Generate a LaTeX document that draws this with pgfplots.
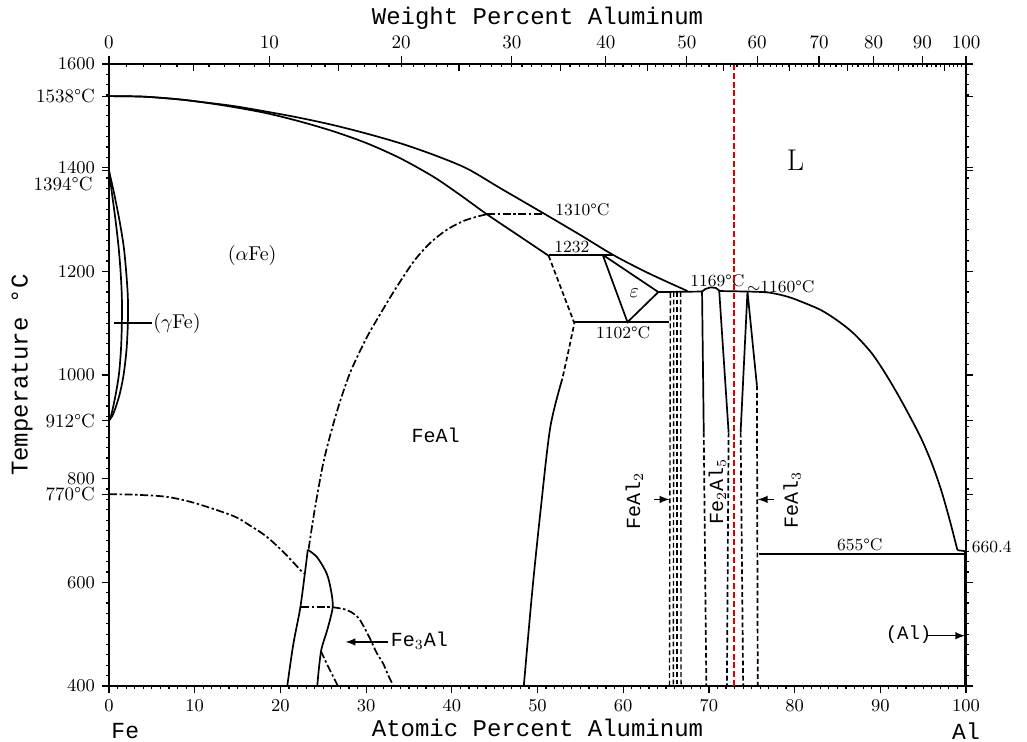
\documentclass[border=0pt]{standalone}
\usepackage{fontspec}
\setmonofont{Liberation Mono}
\usepackage{pgfplots}
\pgfplotsset{compat=1.18}
\def\wtticks{0}
\foreach \w in {1,...,99}{\pgfmathsetmacro\a{\w*2.06983/(\w*2.06983+100-\w)*100}\xdef\wtticks{\wtticks,\a}}
\tikzset{
 sl/.style={black, line width=0.85pt},
 dd/.style={black, line width=0.85pt, dash pattern=on 4pt off 1.3pt on 1.2pt off 1.3pt},
 ds/.style={black, line width=0.85pt, dash pattern=on 2.4pt off 1.4pt},
 lab/.style={font=\fontsize{8.5}{9}\selectfont, inner sep=1pt},
 tlab/.style={font=\ttfamily\fontsize{10}{11}\selectfont, inner sep=1pt},
}
\begin{document}
\begin{tikzpicture}
\begin{axis}[
 scale only axis, width=428.5pt, height=311pt,
 xmin=0, xmax=100, ymin=400, ymax=1600,
 xtick={0,10,...,100}, minor x tick num=9,
 ytick={400,600,...,1600}, minor y tick num=9,
 xtick pos=bottom, ytick pos=both, yticklabel pos=left,
 tick align=outside, major tick length=3.5pt, minor tick length=1.6pt,
 every tick/.style={black, line width=0.6pt},
 axis line style={line width=0.9pt},
 /pgf/number format/1000 sep={},
 tick label style={font=\fontsize{9.5}{10}\selectfont},
 xlabel={Atomic Percent Aluminum}, ylabel={Temperature °C},
 label style={font=\ttfamily\fontsize{12}{14}\selectfont},
 xlabel style={at={(axis description cs:0.5,-0.068)}, anchor=center},
 ylabel style={at={(axis description cs:-0.1015,0.5)}, anchor=center, rotate=0},
 extra y ticks={1538,1394,912,770}, extra y tick labels={1538°C,,912°C,770°C},
 clip=false,
]
\coordinate (BL) at (rel axis cs:0,0);
\coordinate (TR) at (rel axis cs:1,1);
% liquidus (Fe side)
\addplot[sl, smooth] coordinates {(0,1538) (4,1537) (8,1532) (10.6,1527) (14.5,1519) (18.4,1508) (22.3,1496) (26.2,1482) (30,1466) (34.0,1447) (38,1424) (41.8,1398) (45.7,1360) (50.9,1310) (54.9,1271) (58.9,1231) (63,1196) (67.5,1162)};
% solidus
\addplot[sl, smooth] coordinates {(0,1538) (4,1537) (8,1532) (11,1526) (14.5,1517) (18.4,1505) (22.3,1489) (26.2,1470) (30.1,1447) (34,1418) (37.9,1382) (41,1347) (44.1,1310) (47.7,1270) (51.3,1230)};
% FeAl boundary
\addplot[ds] coordinates {(51.3,1230) (52.8,1165) (54.3,1100) (53.6,1045) (52.9,993)};
\addplot[sl, smooth] coordinates {(52.9,993) (51.5,900) (50.4,745) (49.4,585) (48.4,400)};
% isotherms
\addplot[sl] coordinates {(51.3,1232) (58.9,1232)};
\addplot[sl] coordinates {(54.3,1102) (65.4,1102)};
\addplot[sl] coordinates {(64.1,1160) (69.2,1161)};
\addplot[sl] coordinates {(71.2,1162) (74.5,1161)};
\addplot[dd] coordinates {(44.1,1310) (50.9,1310)};
% epsilon triangle
\addplot[sl] coordinates {(57.6,1232) (60.5,1102) (64.1,1160) (57.6,1232)};
% FeAl2
\addplot[ds, line width=0.7pt] coordinates {(65.5,1158) (65.4,400)};
\addplot[ds, line width=0.7pt] coordinates {(65.9,1160) (65.85,400)};
\addplot[ds, line width=0.7pt] coordinates {(66.3,1160) (66.3,400)};
\addplot[ds, line width=0.7pt] coordinates {(66.7,1160) (66.75,400)};
% Fe2Al5
\addplot[sl] coordinates {(69.4,889) (69.2,1161) (69.6,1166) (70.2,1169) (70.8,1168) (71.2,1163) (72.3,889)};
\addplot[ds] coordinates {(69.4,889) (69.7,400)};
\addplot[ds] coordinates {(72.3,889) (72.1,400)};
% FeAl3
\addplot[sl] coordinates {(73.7,889) (74.5,1161) (75.6,980)};
\addplot[ds] coordinates {(73.7,889) (74.0,400)};
\addplot[ds] coordinates {(75.6,980) (75.7,400)};
% liquidus (Al side)
\addplot[sl, smooth] coordinates {(74.5,1161) (77,1159) (79.2,1151) (81,1140) (83.1,1125) (85,1105) (86.9,1080) (89,1042) (90.85,996) (92.8,940) (94.7,880) (96,830) (97.1,778) (98.1,720) (99.0,662)};
\addplot[sl] coordinates {(99.0,662) (100,660)};
\addplot[sl] coordinates {(75.8,655) (100,655)};
\addplot[black, line width=1.6pt] coordinates {(99.9,400) (99.9,660)};
% gamma loop
\addplot[sl, smooth] coordinates {(0,1394) (0.6,1350) (1.2,1300) (1.7,1250) (2.0,1200) (2.2,1150) (2.2,1100) (2.05,1050) (1.7,1000) (1.2,960) (0.5,925) (0,912)};
\addplot[sl, smooth] coordinates {(0,1394) (0.35,1350) (0.75,1300) (1.1,1250) (1.35,1200) (1.5,1150) (1.5,1100) (1.4,1050) (1.15,1000) (0.75,960) (0.3,925) (0,912)};
\addplot[sl] coordinates {(0.6,1100) (5.0,1100)};
% B2 order line
\addplot[dd, smooth] coordinates {(23.3,665) (24,740) (25,830) (26,895) (27,951) (28.2,1007) (30,1070) (31.7,1119) (33.5,1168) (35.6,1220) (37.5,1255) (39.5,1281) (41.5,1298) (43.3,1307) (44.1,1310)};
% Curie line
\addplot[dd, smooth] coordinates {(0,770) (3,769) (6.7,765) (10,753) (14.5,728) (16.5,709) (18.4,688) (20.5,656) (22.7,617)};
% Fe3Al region
\addplot[sl, smooth] coordinates {(20.8,400) (21.5,480) (22.3,549) (22.8,610) (23.2,663)};
\addplot[sl, smooth] coordinates {(23.2,663) (24.3,648) (25.4,617) (25.9,585) (26.1,552) (25.5,510) (24.8,472) (24.5,435) (24.3,400)};
\addplot[dd] coordinates {(22.4,552) (26.1,552)};
\addplot[dd, smooth] coordinates {(26.1,552) (27.5,548) (28.5,540) (29.3,527) (30.5,490) (31.2,465) (32.0,443) (32.6,420) (33.2,400)};
\addplot[dd] coordinates {(24.7,468) (25.5,440) (26.1,420) (26.7,400)};
% arrows
\addplot[black, line width=0.7pt, -latex] coordinates {(32.6,485) (27.6,485)};
\addplot[black, line width=0.7pt, -latex] coordinates {(63.6,760) (65.4,760)};
\addplot[black, line width=0.7pt, -latex] coordinates {(77.6,760) (75.7,760)};
\addplot[black, line width=0.7pt, -latex] coordinates {(95.5,497) (99.9,497)};
% labels
\node[font=\fontsize{15}{15}\selectfont] at (axis cs:80.1,1415) {L};
\node[font=\fontsize{10}{11}\selectfont] at (axis cs:16.7,1230) {($\alpha$Fe)};
\node[font=\fontsize{10}{11}\selectfont, anchor=west, inner sep=0.5pt] at (axis cs:5.0,1100) {($\gamma$Fe)};
\node[tlab] at (axis cs:38.1,884) {FeAl};
\node[tlab, anchor=west] at (axis cs:32.6,487) {Fe$_3$Al};
\node[font=\fontsize{10}{11}\selectfont] at (axis cs:61.3,1157) {$\varepsilon$};
\node[lab, anchor=west] at (axis cs:51.8,1318) {1310°C};
\node[lab] at (axis cs:54.0,1246) {1232};
\node[lab] at (axis cs:60.0,1082) {1102°C};
\node[lab] at (axis cs:71.0,1181) {1169°C};
\node[lab] at (axis cs:78.4,1171) {$\sim$1160°C};
\node[lab] at (axis cs:87.6,673) {655°C};
\node[lab, anchor=west] at (axis cs:100.4,668) {660.4};
\node[tlab, font=\ttfamily\fontsize{9.5}{10}\selectfont] at (axis cs:93.3,499) {(Al)};
\node[tlab, rotate=90] at (axis cs:61.3,757) {FeAl$_2$};
\node[tlab, rotate=90] at (axis cs:71.0,775) {Fe$_2$Al$_5$};
\node[tlab, rotate=90] at (axis cs:79.7,758) {FeAl$_3$};
\node[font=\fontsize{9.5}{10}\selectfont, anchor=east] at (axis cs:-1.1,1369) {1394°C};
\node[font=\ttfamily\fontsize{11.5}{13}\selectfont] at (axis cs:1.9,400) [yshift=-22.5pt] {Fe};
\node[font=\ttfamily\fontsize{11.5}{13}\selectfont] at (axis cs:100,400) [yshift=-22.5pt] {Al};
% red marker line
\addplot[red!85!black, line width=1.1pt, dash pattern=on 3pt off 1.4pt] coordinates {(72.9,400) (72.9,1600)};
\end{axis}
\begin{axis}[
 scale only axis, width=428.5pt, height=311pt,
 xmin=0, xmax=100, ymin=0, ymax=1,
 axis x line*=top, axis y line=none,
 xtick={0,18.70,34.10,47.01,57.98,67.43,75.64,82.85,89.22,94.90,100},
 xticklabels={0,10,20,30,40,50,60,70,80,90,100},
 minor xtick={9.82,26.75,40.83,52.71,62.87,71.67,79.36,86.13,92.14,97.52},
 extra x ticks/.expand once=\wtticks,
 extra x tick labels={},
 extra tick style={tick align=inside, major tick length=1.6pt},
 tick align=outside, major tick length=4pt, minor tick length=3.5pt,
 every minor tick/.append style={yshift=-3.5pt},
 every tick/.style={black, line width=0.6pt},
 axis line style={line width=0.9pt},
 tick label style={font=\fontsize{9.5}{10}\selectfont},
 xlabel={Weight Percent Aluminum},
 label style={font=\ttfamily\fontsize{12}{14}\selectfont},
 xlabel style={at={(axis description cs:0.5,1.074)}, anchor=center},
]
\end{axis}
\pgfresetboundingbox
\path[use as bounding box] ([xshift=-54.5pt,yshift=-28pt]BL) rectangle ([xshift=30.5pt,yshift=32pt]TR);
\end{tikzpicture}
\end{document}
